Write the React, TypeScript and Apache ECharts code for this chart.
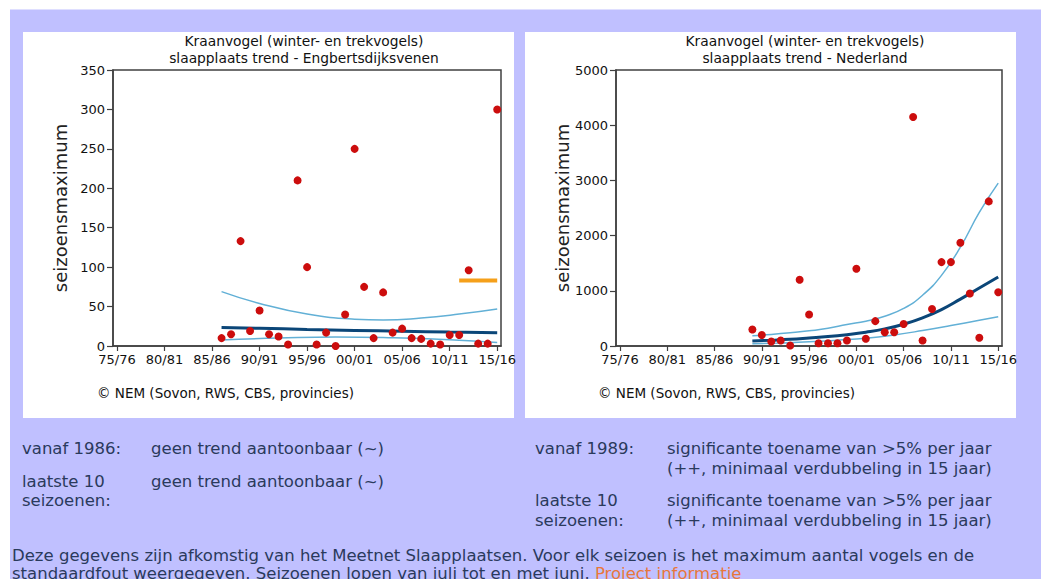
import React, { useEffect, useRef } from "react";
import * as echarts from "echarts";

// ---- data ----
const tickYears = [1975, 1980, 1985, 1990, 1995, 2000, 2005, 2010, 2015];
const tickLabels = ["75/76", "80/81", "85/86", "90/91", "95/96", "00/01", "05/06", "10/11", "15/16"];

// Engbertsdijksvenen
const engYears = [1986, 1987, 1988, 1989, 1990, 1991, 1992, 1993, 1994, 1995, 1996, 1997, 1998, 1999, 2000, 2001, 2002, 2003, 2004, 2005, 2006, 2007, 2008, 2009, 2010, 2011, 2012, 2013, 2014, 2015];
const engCounts = [10, 15, 133, 19, 45, 15, 12, 2, 210, 100, 2, 17, 0, 40, 250, 75, 10, 68, 17, 22, 10, 9, 3, 2, 14, 14, 96, 3, 3, 300];
const engTrendYears = [1986, 1990, 1995, 2000, 2005, 2010, 2015];
const engTrend = [23.5, 22.5, 21, 19.8, 18.7, 17.7, 16.8];
const engUpperYears = [1986, 1990, 1995, 2000, 2003, 2007, 2011, 2015];
const engUpper = [69, 54, 40.5, 34, 33, 35.5, 40.5, 47];
const engLowerYears = [1986, 1992, 1998, 2004, 2010, 2015];
const engLower = [7.5, 10, 11.5, 10.5, 8, 4.5];
const engAvgYears = [2011, 2015];
const engAvg = [83.2, 83.2];

// Nederland
const nlYears = [1989, 1990, 1991, 1992, 1993, 1994, 1995, 1996, 1997, 1998, 1999, 2000, 2001, 2002, 2003, 2004, 2005, 2006, 2007, 2008, 2009, 2010, 2011, 2012, 2013, 2014, 2015];
const nlCounts = [300, 200, 80, 100, 10, 1200, 570, 50, 50, 50, 100, 1400, 130, 450, 250, 250, 400, 4150, 100, 670, 1520, 1520, 1870, 950, 150, 2620, 975];
const nlCurveYears = [1989, 1991, 1993, 1995, 1997, 1999, 2001, 2003, 2005, 2007, 2009, 2011, 2013, 2015];
const nlTrend = [90, 105, 122, 145, 170, 205, 250, 310, 395, 510, 660, 850, 1050, 1250];
const nlUpper = [185, 210, 240, 275, 320, 390, 450, 540, 680, 920, 1280, 1790, 2420, 2950];
const nlLowerYears = [1989, 1992, 1995, 1998, 2001, 2004, 2007, 2010, 2013, 2015];
const nlLower = [40, 55, 75, 105, 140, 200, 280, 370, 465, 530];

const FONT = "DejaVu Sans";
const TXT = "#2a3a5c";
const RED = "#cc0d0d";
const DARK = "#0b4678";
const LIGHT = "#62b0d6";
const ORANGE = "#f5a01a";
const BODY_SIZE = 16.5;

const zip = (xs: number[], ys: number[]) => xs.map((x, i) => [x, ys[i]]);

function xAxisDef(gridIndex: number) {
  return {
    type: "value",
    gridIndex,
    min: 1974.58,
    max: 2015.4,
    splitLine: { show: false },
    axisLine: { show: true, lineStyle: { color: "#404040", width: 1.5 } },
    axisTick: { show: true, length: 5, customValues: tickYears, lineStyle: { color: "#404040", width: 1.2 } },
    axisLabel: {
      customValues: tickYears,
      margin: 7,
      color: "#111",
      fontFamily: FONT,
      fontSize: 13,
      formatter: (v: number) => tickLabels[tickYears.indexOf(Math.round(v))] ?? "",
    },
  };
}

function yAxisDef(gridIndex: number, max: number, interval: number) {
  return {
    type: "value",
    gridIndex,
    min: 0,
    max,
    interval,
    name: "seizoensmaximum",
    nameLocation: "middle",
    nameGap: 44,
    nameTextStyle: { fontFamily: FONT, fontSize: 18, color: "#222" },
    splitLine: { show: false },
    axisLine: { show: true, lineStyle: { color: "#404040", width: 1.5 } },
    axisTick: { show: true, length: 6, lineStyle: { color: "#404040", width: 1.2 } },
    axisLabel: {
      margin: 8,
      color: "#111",
      fontFamily: FONT,
      fontSize: 13,
      formatter: (v: number) => String(v),
    },
  };
}

function lineSeries(idx: number, data: number[][], color: string, width: number, z: number) {
  return {
    type: "line",
    xAxisIndex: idx,
    yAxisIndex: idx,
    data,
    smooth: true,
    showSymbol: false,
    symbol: "none",
    lineStyle: { color, width },
    z,
    silent: true,
  };
}

function scatterSeries(idx: number, data: number[][]) {
  return {
    type: "scatter",
    xAxisIndex: idx,
    yAxisIndex: idx,
    data,
    symbolSize: 8,
    itemStyle: { color: RED, opacity: 1 },
    z: 10,
  };
}

function txt(x: number, y: number, text: string, opts: any = {}) {
  return {
    type: "text",
    x,
    y,
    z: 100,
    style: {
      text,
      fontFamily: FONT,
      fontSize: opts.fontSize ?? BODY_SIZE,
      fill: opts.fill ?? TXT,
      textAlign: opts.align ?? "left",
      textVerticalAlign: "middle",
    },
  };
}

export default function App() {
  const ref = useRef<HTMLDivElement>(null);
  useEffect(() => {
    if (!ref.current) return;
    const chart = echarts.init(ref.current, undefined, { renderer: "svg" });
    const option: any = {
      animation: false,
      backgroundColor: "#ffffff",
      grid: [
        { left: 113, top: 70, width: 388, height: 276, show: true, borderColor: "#404040", borderWidth: 1.5, backgroundColor: "#ffffff" },
        { left: 616, top: 70, width: 386, height: 276, show: true, borderColor: "#404040", borderWidth: 1.5, backgroundColor: "#ffffff" },
      ],
      xAxis: [xAxisDef(0), xAxisDef(1)],
      yAxis: [yAxisDef(0, 350, 50), yAxisDef(1, 5000, 1000)],
      series: [
        lineSeries(0, zip(engUpperYears, engUpper), LIGHT, 1.5, 3),
        lineSeries(0, zip(engLowerYears, engLower), LIGHT, 1.5, 3),
        lineSeries(0, zip(engTrendYears, engTrend), DARK, 3, 4),
        { ...lineSeries(0, zip(engAvgYears, engAvg), ORANGE, 4, 5), smooth: false },
        scatterSeries(0, zip(engYears, engCounts)),
        lineSeries(1, zip(nlCurveYears, nlUpper), LIGHT, 1.5, 3),
        lineSeries(1, zip(nlLowerYears, nlLower), LIGHT, 1.5, 3),
        lineSeries(1, zip(nlCurveYears, nlTrend), DARK, 3, 4),
        scatterSeries(1, zip(nlYears, nlCounts)),
      ],
      graphic: [
        { type: "rect", z: -10, shape: { x: 10, y: 9.5, width: 1031, height: 570 }, style: { fill: "#c0c0ff" } },
        { type: "rect", z: -9, shape: { x: 23, y: 32, width: 491, height: 386 }, style: { fill: "#ffffff" } },
        { type: "rect", z: -9, shape: { x: 525, y: 32, width: 491, height: 386 }, style: { fill: "#ffffff" } },
        txt(304, 41, "Kraanvogel (winter- en trekvogels)", { fontSize: 13.8, fill: "#111", align: "center" }),
        txt(304, 58, "slaapplaats trend - Engbertsdijksvenen", { fontSize: 13.8, fill: "#111", align: "center" }),
        txt(805, 41, "Kraanvogel (winter- en trekvogels)", { fontSize: 13.8, fill: "#111", align: "center" }),
        txt(805, 58, "slaapplaats trend - Nederland", { fontSize: 13.8, fill: "#111", align: "center" }),
        txt(97, 393, "© NEM (Sovon, RWS, CBS, provincies)", { fontSize: 13.5, fill: "#111" }),
        txt(598, 393, "© NEM (Sovon, RWS, CBS, provincies)", { fontSize: 13.5, fill: "#111" }),
        txt(22, 448, "vanaf 1986:"),
        txt(151, 448, "geen trend aantoonbaar (~)"),
        txt(22, 481, "laatste 10"),
        txt(22, 500, "seizoenen:"),
        txt(151, 481, "geen trend aantoonbaar (~)"),
        txt(535, 448, "vanaf 1989:"),
        txt(667, 448, "significante toename van >5% per jaar"),
        txt(667, 468, "(++, minimaal verdubbeling in 15 jaar)"),
        txt(535, 500, "laatste 10"),
        txt(535, 520, "seizoenen:"),
        txt(667, 500, "significante toename van >5% per jaar"),
        txt(667, 520, "(++, minimaal verdubbeling in 15 jaar)"),
        txt(12, 555, "Deze gegevens zijn afkomstig van het Meetnet Slaapplaatsen. Voor elk seizoen is het maximum aantal vogels en de"),
        {
          type: "text",
          x: 12,
          y: 573,
          z: 100,
          style: {
            text: "{a|standaardfout weergegeven. Seizoenen lopen van juli tot en met juni. }{b|Project informatie}",
            fontFamily: FONT,
            fontSize: BODY_SIZE,
            textVerticalAlign: "middle",
            rich: {
              a: { fontFamily: FONT, fontSize: BODY_SIZE, fill: TXT },
              b: { fontFamily: FONT, fontSize: BODY_SIZE, fill: "#e8773a" },
            },
          },
        },
      ],
    };
    chart.setOption(option);
    return () => chart.dispose();
  }, []);
  return (
    <div
      ref={ref}
      style={{ position: "absolute", left: 0, top: 0, width: 1045, height: 579 }}
    />
  );
}
